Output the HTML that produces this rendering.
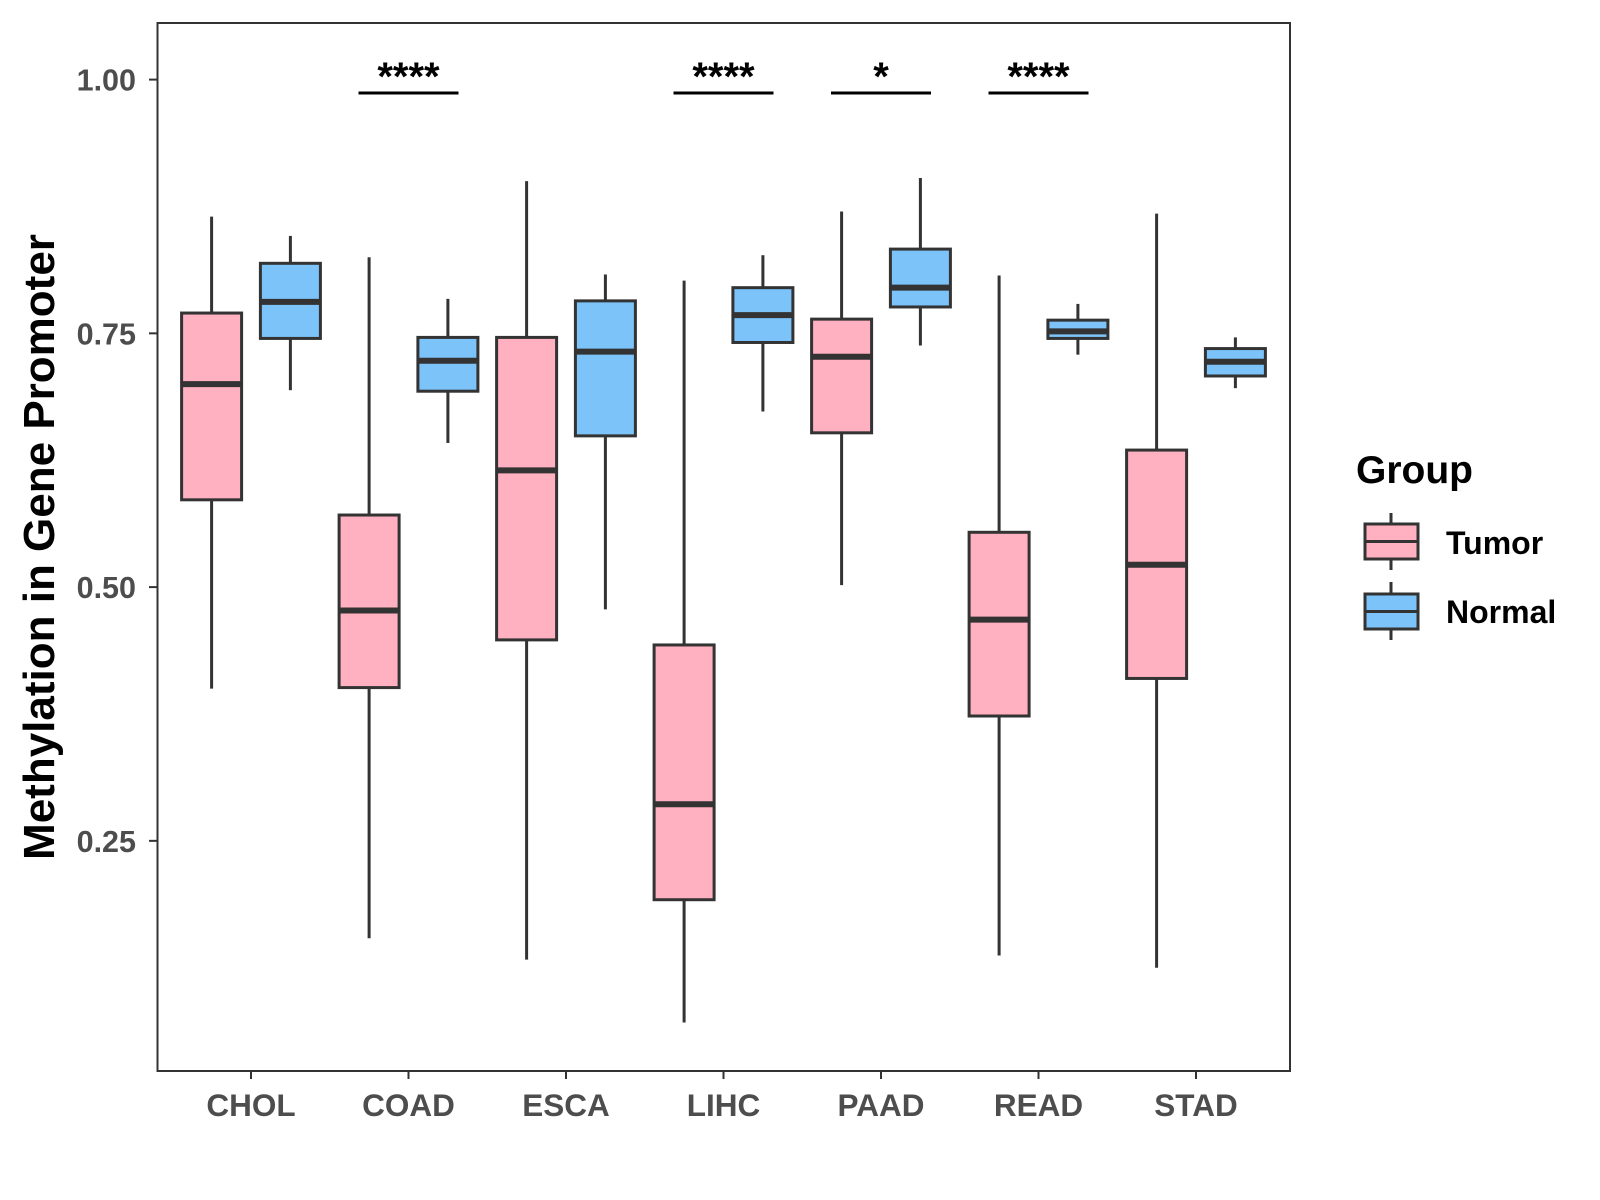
<!DOCTYPE html>
<html><head><meta charset="utf-8"><style>
body{margin:0;background:#fff}
svg{display:block;font-family:"Liberation Sans",Arial,sans-serif;font-weight:bold}
</style></head><body>
<svg id="chart" width="1600" height="1200">
<rect x="0" y="0" width="1600" height="1200" fill="#fff"/>
<g id="marks"></g>
<rect x="157.5" y="23" width="1132.5" height="1048" fill="none" stroke="#333" stroke-width="2"/>
<g id="axes"></g>
<text x="0" y="0" transform="translate(54,547) rotate(-90)" text-anchor="middle" font-size="44" fill="#000">Methylation in Gene Promoter</text>
<g>
<text x="1356" y="483" font-size="39" fill="#000">Group</text>
<g>
<line x1="1391" y1="513" x2="1391" y2="570" stroke="#333" stroke-width="3"/>
<rect x="1365" y="524" width="53" height="35" fill="#FFB0C1" stroke="#333" stroke-width="3"/>
<line x1="1365" y1="541.5" x2="1418" y2="541.5" stroke="#333" stroke-width="3"/>
<text x="1446" y="554" font-size="32" fill="#000">Tumor</text>
</g>
<g>
<line x1="1391" y1="582" x2="1391" y2="640" stroke="#333" stroke-width="3"/>
<rect x="1365" y="594" width="53" height="35" fill="#7CC3FA" stroke="#333" stroke-width="3"/>
<line x1="1365" y1="611.5" x2="1418" y2="611.5" stroke="#333" stroke-width="3"/>
<text x="1446" y="623" font-size="32" fill="#000">Normal</text>
</g>
</g>
</svg>
<script>
const categories=["CHOL","COAD","ESCA","LIHC","PAAD","READ","STAD"];
// [lowerWhisker, q1, median, q3, upperWhisker]
const tumorStats=[[0.40,0.586,0.700,0.770,0.865],[0.154,0.401,0.477,0.571,0.825],[0.133,0.448,0.615,0.746,0.900],[0.071,0.192,0.286,0.443,0.802],[0.502,0.652,0.727,0.764,0.870],[0.137,0.373,0.468,0.554,0.807],[0.125,0.410,0.522,0.635,0.868]];
const normalStats=[[0.694,0.745,0.781,0.819,0.846],[0.642,0.693,0.723,0.746,0.784],[0.478,0.649,0.732,0.782,0.808],[0.673,0.741,0.768,0.795,0.827],[0.738,0.776,0.795,0.833,0.903],[0.729,0.745,0.752,0.763,0.779],[0.696,0.708,0.722,0.735,0.746]];
const significance=["","****","","****","*","****",""];
const yTicks=[0.25,0.50,0.75,1.00];
const yTickLabels=["0.25","0.50","0.75","1.00"];

const NS="http://www.w3.org/2000/svg";
function y(v){return 79.6+(1-v)*1015;}
function x(i){return 251+i*157.5;}
function mk(tag,attrs,parent){const e=document.createElementNS(NS,tag);for(const k in attrs)e.setAttribute(k,attrs[k]);parent.appendChild(e);return e;}
const marks=document.getElementById('marks'),axes=document.getElementById('axes');
function box(cx,s,fill,name){
  const g=mk('g',{},marks);
  
  
  const st={stroke:'#333','stroke-width':3};
  mk('line',Object.assign({x1:cx,x2:cx,y1:y(s[4]),y2:y(s[3])},st),g);
  mk('line',Object.assign({x1:cx,x2:cx,y1:y(s[1]),y2:y(s[0])},st),g);
  mk('rect',Object.assign({x:cx-30,y:y(s[3]),width:60,height:y(s[1])-y(s[3]),fill:fill},st),g);
  mk('line',{x1:cx-30,x2:cx+30,y1:y(s[2]),y2:y(s[2]),stroke:'#333','stroke-width':6},g);
}
categories.forEach((c,i)=>{
  box(x(i)-39.4,tumorStats[i],'#FFB0C1','box-tumor-'+c.toLowerCase());
  box(x(i)+39.4,normalStats[i],'#7CC3FA','box-normal-'+c.toLowerCase());
  if(significance[i]){
    const g=mk('g',{},marks);
    
    
    mk('line',{x1:x(i)-50,x2:x(i)+50,y1:93,y2:93,stroke:'#000','stroke-width':3},g);
    const t=mk('text',{x:x(i),y:90,'text-anchor':'middle','font-size':40,fill:'#000'},g);
    t.textContent=significance[i];
  }
  const tk=mk('line',{x1:x(i),x2:x(i),y1:1071,y2:1079,stroke:'#333','stroke-width':2},axes);
  
  
  const lb=mk('text',{x:x(i),y:1116,'text-anchor':'middle','font-size':31.5,fill:'#4d4d4d'},axes);
  
  
  lb.textContent=c;
});
yTicks.forEach((v,i)=>{
  const tk=mk('line',{x1:149,x2:157,y1:y(v),y2:y(v),stroke:'#333','stroke-width':2},axes);
  
  
  const lb=mk('text',{x:136,y:y(v)+11,'text-anchor':'end','font-size':30.5,fill:'#4d4d4d'},axes);
  
  
  lb.textContent=yTickLabels[i];
});
</script>
</body></html>
